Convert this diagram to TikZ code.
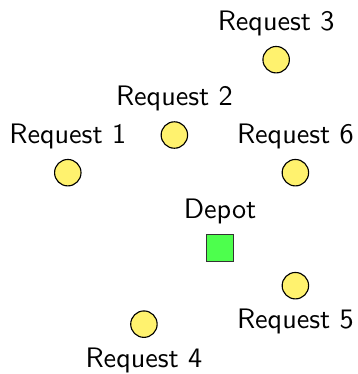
\documentclass[tikz,border=0pt]{standalone}
\usetikzlibrary{positioning}

\definecolor{reqyellow}{RGB}{255,242,110}
\definecolor{depotgreen}{RGB}{77,255,77}

\tikzset{
  request/.style={circle, draw, fill=reqyellow, minimum size=0.33cm, inner sep=0pt},
  depot/.style={rectangle, draw=black!80, fill=depotgreen, minimum size=0.33cm, inner sep=0pt}
}

\begin{document}
\begin{tikzpicture}[font=\sffamily]
  % keep the page the size of the reference
  \useasboundingbox (-2.746,-1.572) rectangle (1.710,3.095);

  % --- Depot ---
  \node[depot, label=above:Depot] (depot) at (0, 0) {};

  % --- Requests ---
  \node[request, label=above:Request 1] (req1) at (-1.90, 0.94) {};
  \node[request, label=above:Request 2] (req2) at (-0.57, 1.41) {};
  \node[request, label=above:Request 3] (req3) at (0.70, 2.35) {};
  \node[request, label=below:Request 4] (req4) at (-0.95, -0.95) {};
  \node[request, label=below:Request 5] (req5) at (0.94, -0.47) {};
  \node[request, label=above:Request 6] (req6) at (0.94, 0.94) {};
\end{tikzpicture}
\end{document}
